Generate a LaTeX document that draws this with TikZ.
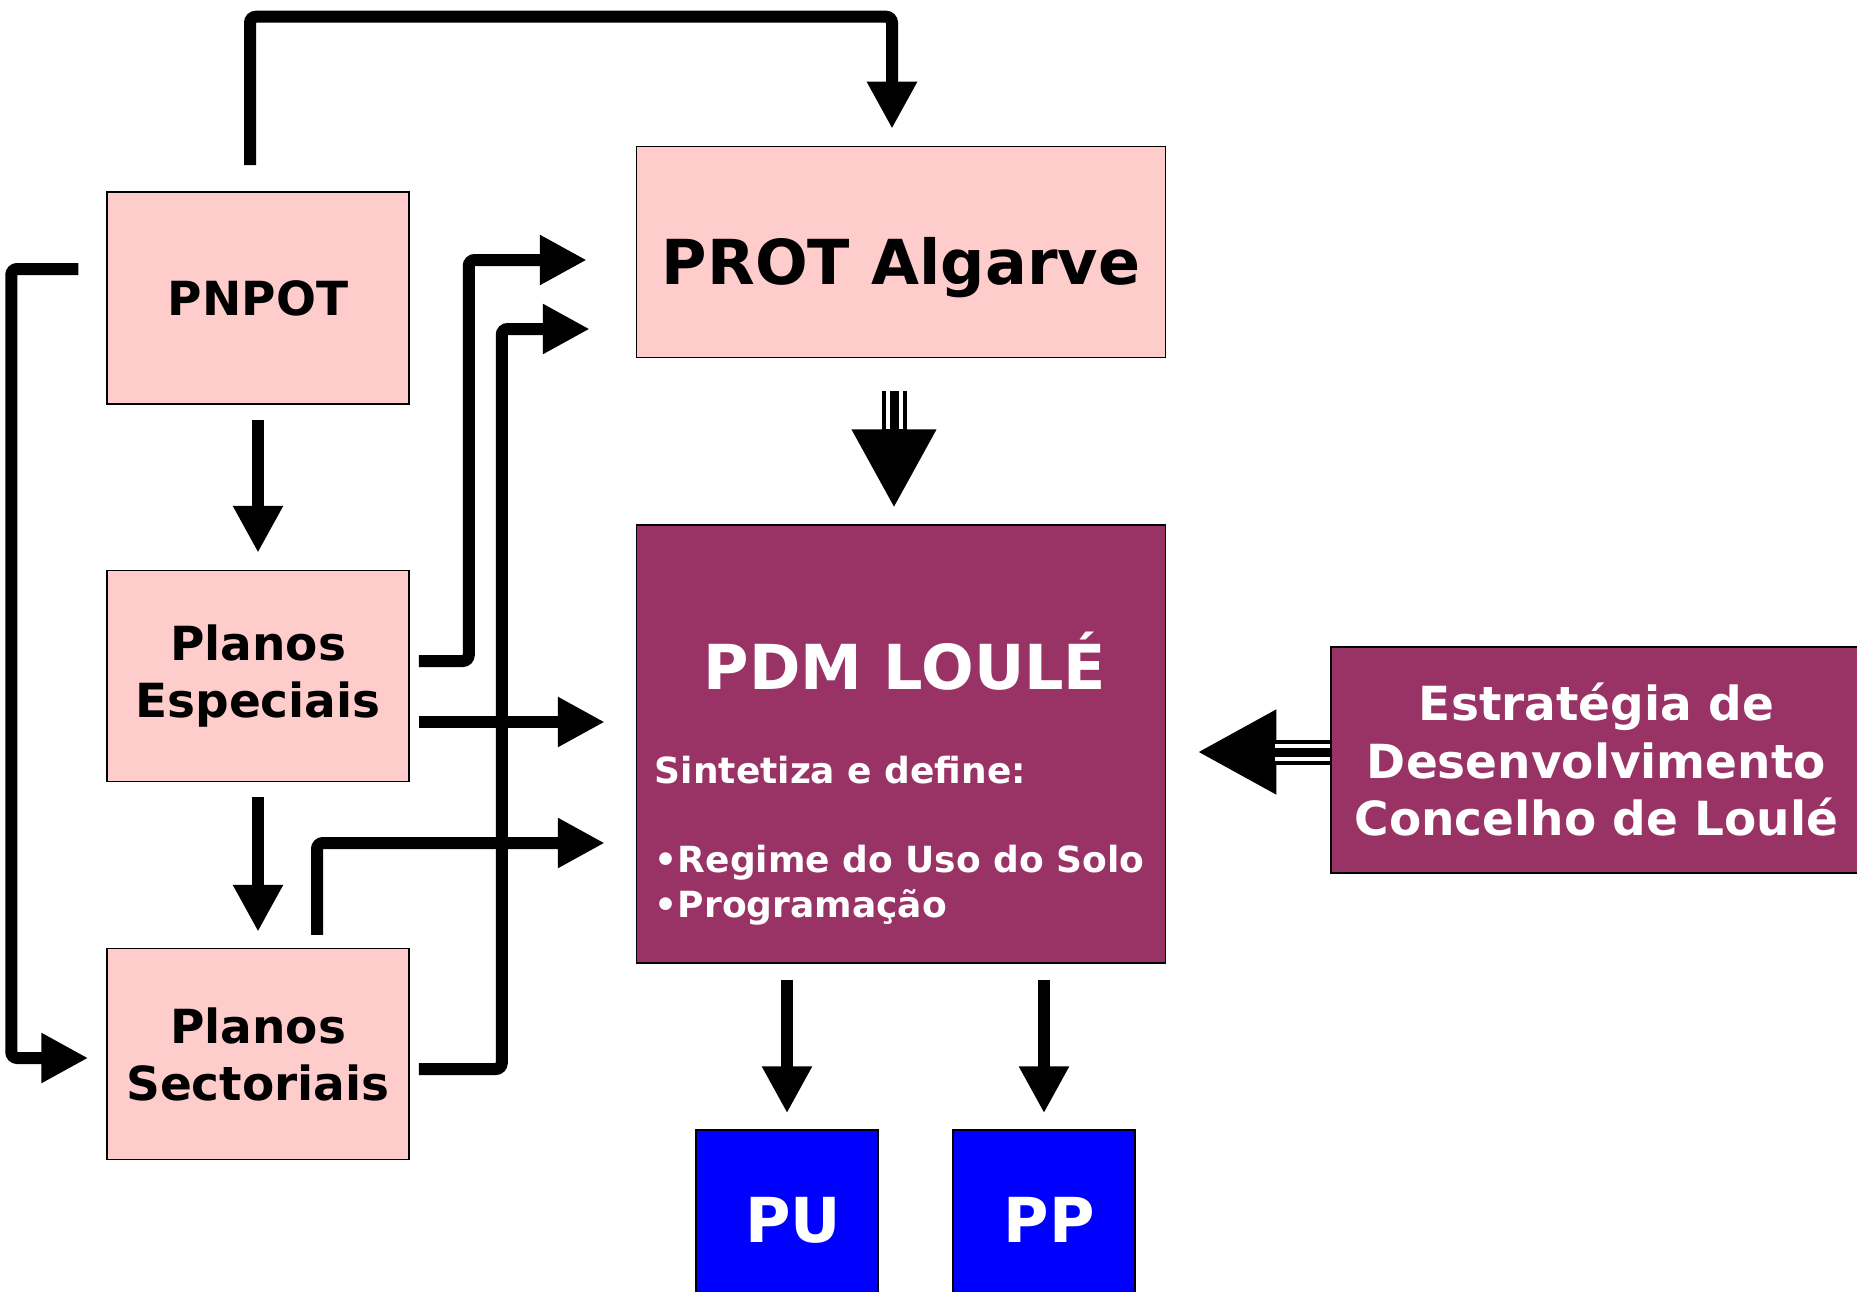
\documentclass[tikz,border=0pt]{standalone}
\usepackage{fontspec}
\setmainfont{DejaVu Sans}
\usetikzlibrary{arrows.meta,calc}
\definecolor{rosa}{HTML}{FFCCCC}
\definecolor{vinho}{HTML}{993366}
\definecolor{azul}{HTML}{0000FF}
\begin{document}
\begin{tikzpicture}[x=1pt,y=-1pt,
  caixa/.style={draw=black,line width=1.5pt,fill=rosa,inner sep=0pt,align=center,
    font=\bfseries\fontsize{47}{57}\selectfont},
  caixaroxa/.style={caixa,fill=vinho,text=white},
  caixaazul/.style={caixa,fill=azul,text=white,font=\bfseries\fontsize{62}{70}\selectfont},
  texto/.style={text=white,inner sep=0pt,anchor=base west,font=\bfseries\fontsize{36}{45}\selectfont},
  seta/.style={line width=12pt,rounded corners=6pt,-{Triangle[length=47pt,width=47pt]}},
  setatripla/.style={line width=25pt,-{Triangle[length=79pt,width=79pt]}},
  listras/.style={white,double=black,line width=4pt,double distance=9pt}]
\useasboundingbox (0,0) rectangle (1857,1292);
% caixas
\node[caixa,minimum width=302pt,minimum height=212pt] (pnpot) at (258,298) {PNPOT};
\node[caixa,minimum width=302pt,minimum height=211pt] (pe) at (258,676) {Planos\\Especiais};
\node[caixa,minimum width=302pt,minimum height=211pt] (ps) at (258,1054) {Planos\\Sectoriais};
\node[caixa,minimum width=529pt,minimum height=211pt] (prot) at (901,252) {};
\node[caixaroxa,minimum width=529pt,minimum height=438pt] (pdm) at (901,744) {};
\node[caixaroxa,minimum width=531pt,minimum height=226pt,font=\bfseries\fontsize{47}{57.5}\selectfont] (estr) at (1596.5,760) {Estratégia de\\Desenvolvimento\\Concelho de Loulé};
\node[caixaazul,minimum width=182pt,minimum height=180pt] (pu) at (787,1220) {\hspace*{12pt}PU};
\node[caixaazul,minimum width=182pt,minimum height=180pt] (pp) at (1044,1220) {\hspace*{10pt}PP};
% textos
\node[texto,text=black,anchor=base,font=\bfseries\fontsize{62}{70}\selectfont] (protxt) at ($(prot.center)+(0,32)$) {PROT Algarve};
\node[texto,anchor=base,font=\bfseries\fontsize{62}{70}\selectfont] (titulo) at ($(pdm.center)+(4,-55)$) {PDM LOULÉ};
\node[texto] (sintese) at ($(pdm.west)+(19,39)$) {Sintetiza e define:};
\node[texto] (regime) at ($(pdm.west)+(19,128)$) {•Regime do Uso do Solo};
\node[texto] (programa) at ($(pdm.west)+(19,173)$) {•Programação};
% setas
\draw[seta] ($(pnpot.north)+(-8,-26)$) |- ($(prot.north)+(-9,-129)$) -- ($(prot.north)+(-9,-17)$);
\draw[seta] ($(pnpot.west)+(-28,-29)$) -- ++(-67,0) |- ($(ps.west)+(-18,4)$);
\draw[seta,shorten <=15pt,shorten >=17pt] (pnpot) -- (pe);
\draw[seta,shorten <=15pt,shorten >=16pt] (pe) -- (ps);
\draw[seta] ($(pe.east)+(9,-15)$) -- ++(50,0) |- ($(prot.west)+(-49,8)$);
\draw[seta] ($(ps.east)+(9,15)$) -- ++(83,0) |- ($(prot.west)+(-46,77)$);
\draw[seta] ($(pe.east)+(9,46)$) -- ($(pdm.west)+(-31,-22)$);
\draw[seta] ($(ps.north)+(59,-13)$) |- ($(pdm.west)+(-31,99)$);
\draw[seta,shorten <=16pt,shorten >=16pt] (pdm.south-|pu.north) -- (pu.north);
\draw[seta,shorten <=16pt,shorten >=16pt] (pdm.south-|pp.north) -- (pp.north);
% setas triplas
\draw[setatripla,shorten <=33pt,shorten >=16pt] ([xshift=-7pt]prot.south) -- ([xshift=-7pt]pdm.north);
\draw[listras,shorten <=33pt,shorten >=95pt] ([xshift=-7pt]prot.south) -- ([xshift=-7pt]pdm.north);
\draw[setatripla,shorten >=31pt] ($(estr.west)+(0,-8)$) -- ($(estr.west-|pdm.east)+(0,-8)$);
\draw[listras,shorten >=109pt] ($(estr.west)+(0,-8)$) -- ($(estr.west-|pdm.east)+(0,-8)$);
\end{tikzpicture}
\end{document}
